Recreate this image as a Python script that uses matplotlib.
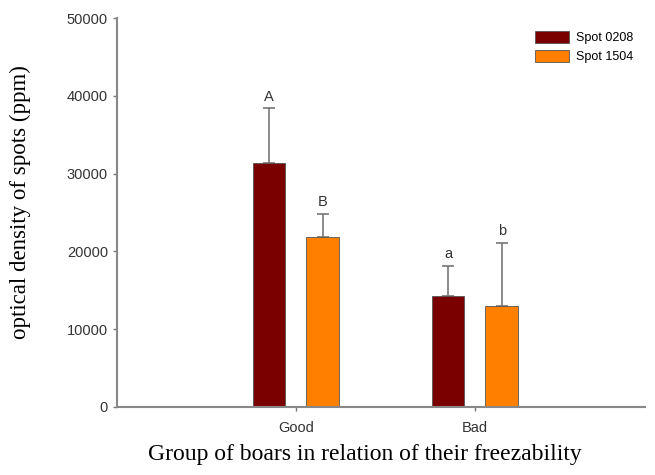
import matplotlib.pyplot as plt
import numpy as np

groups = ["Good", "Bad"]
series = ["Spot 0208", "Spot 1504"]
spot0208 = [31350, 14270]
spot0208_err = [7050, 3850]
spot1504 = [21850, 12980]
spot1504_err = [2950, 8100]
letters0208 = ["A", "a"]
letters1504 = ["B", "b"]

colors = ["#7a0000", "#ff8000"]

fig = plt.figure(figsize=(6.55, 4.75), dpi=100)
ax = fig.add_axes([0.1786, 0.1432, 0.806, 0.8188])

x = np.arange(len(groups))
w = 0.183
off = 0.15
sans = "Liberation Sans"

for vals, errs, labs, col, name, sgn in [
    (spot0208, spot0208_err, letters0208, colors[0], series[0], -1),
    (spot1504, spot1504_err, letters1504, colors[1], series[1], 1),
]:
    pos = x + sgn * off
    ax.bar(pos, vals, w, color=col, edgecolor="#555555", linewidth=0.6, label=name, zorder=2)
    ax.errorbar(pos, vals, yerr=[np.zeros(len(vals)), errs], fmt="none",
                ecolor="#777777", elinewidth=1.2, capsize=4, capthick=1.2, zorder=1)
    for p, v, e, t in zip(pos, vals, errs, labs):
        ax.text(p, v + e + 600, t, ha="center", va="bottom", fontsize=10.5,
                family=sans, color="#333333")

ax.set_xlim(-1.0, 1.95)
ax.set_ylim(0, 50000)
ax.set_yticks(np.arange(0, 50001, 10000))
ax.set_xticks(x)
ax.set_xticklabels(groups)
for lab in ax.get_xticklabels() + ax.get_yticklabels():
    lab.set_family(sans)
    lab.set_fontsize(10.5)
    lab.set_color("#333333")
ax.tick_params(direction="out", length=3, color="#777777", width=1)
ax.tick_params(axis="x", pad=7)

for s in ["top", "right"]:
    ax.spines[s].set_visible(False)
for s in ["left", "bottom"]:
    ax.spines[s].set_color("#888888")
    ax.spines[s].set_linewidth(1.5)

ax.set_ylabel("optical density of spots (ppm)", family="Liberation Serif", fontsize=16.5)
ax.yaxis.set_label_coords(-0.163, 0.527)
ax.set_xlabel("Group of boars in relation of their freezability", family="Liberation Serif",
              fontsize=17)
ax.xaxis.set_label_coords(0.47, -0.095)

leg = ax.legend(loc="upper right", bbox_to_anchor=(1.0, 0.995), frameon=False,
                prop={"family": sans, "size": 9}, handlelength=2.7, handleheight=1.1,
                handletextpad=0.6, labelspacing=0.45)

fig.savefig("out.png", dpi=100)
